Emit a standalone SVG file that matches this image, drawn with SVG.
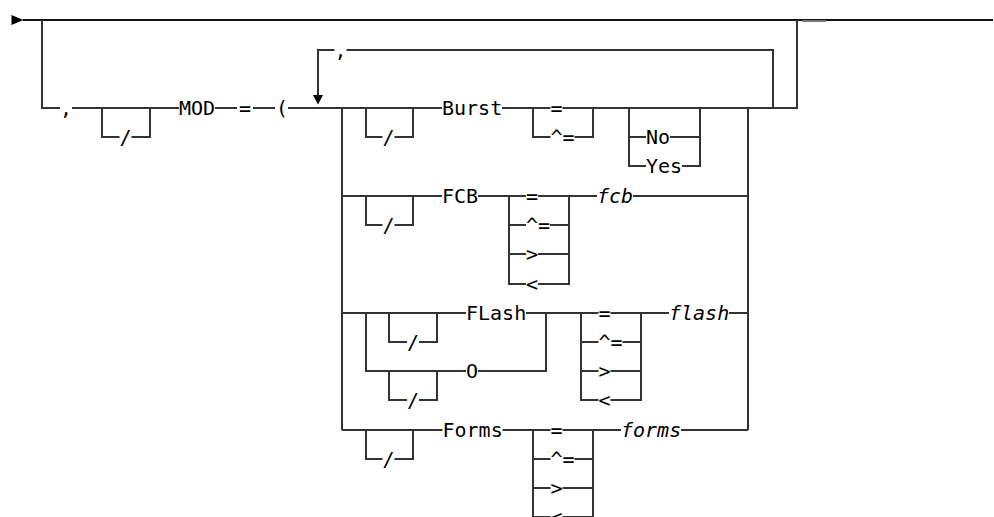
<svg xmlns="http://www.w3.org/2000/svg" width="994" height="517" viewBox="0 0 994 517">
<style>
.t{font-family:"DejaVu Sans Mono","Liberation Mono",monospace;font-size:20px;fill:#000}
.i{font-style:italic}
.c{fill:none;stroke:#333;stroke-width:2}
.m{fill:none;stroke:#111;stroke-width:2}
.a{fill:#000}
</style>
<rect width="994" height="517" fill="#fff"/>
<g id="connectors">
<path class="m" d="M23,20 H993"/>
<path d="M802,21 H826" stroke="#777" stroke-width="2"/>
<polygon class="a" points="11.5,15 23.5,20 11.5,25"/>
<path class="c" d="M42,20 V108 H60 M72,108 H179 M215,108 H237 M253,108 H275 M288,108 H442 M102,108 V137 H119.5 M131.5,137 H150 V108"/>
<path class="c" d="M773,108 V50 H346.5 M334.5,50 H318 V95"/>
<polygon class="a" points="313,95 323,95 318,104.5"/>
<path class="c" d="M748,108 H797 V20"/>
<path class="c" d="M342,108 V430 M748,108 V430"/>
<path class="c" d="M502,108 H550.5 M562.5,108 H748 M366,108 V137 H382.5 M394.5,137 H413 V108 M533,108 V137 H550.5 M574.5,137 H593 V108 M629,108 V166 H646 M629,137 H646 M670,137 H700 M682,166 H700 V108"/>
<path class="c" d="M342,196 H442 M478,196 H526 M538,196 H597 M633,196 H748 M366,196 V225 H382.5 M394.5,225 H413 V196 M509,196 V284 H526 M538,284 H569 V196 M509,225 H526 M550,225 H569 M509,254 H526 M538,254 H569"/>
<path class="c" d="M342,313 H466 M526,313 H598.5 M610.5,313 H669 M729,313 H748 M366,313 V371 H466 M478,371 H546 V313 M389,313 V342 H407 M419,342 H437 V313 M389,371 V400 H407 M419,400 H437 V371 M581,313 V400 H598.5 M610.5,400 H641 V313 M581,342 H598.5 M622.5,342 H641 M581,371 H598.5 M610.5,371 H641"/>
<path class="c" d="M342,430 H442.5 M502.5,430 H550.5 M562.5,430 H621 M681,430 H748 M366,430 V459 H382.5 M394.5,459 H413 V430 M533,430 V520 M593,430 V520 M533,459 H550.5 M574.5,459 H593 M533,488 H550.5 M562.5,488 H593 M533,517 H550.5 M562.5,517 H593"/>
</g>
<g id="node-comma1"><text class="t" x="60" y="115">,</text></g>
<g id="node-slash0"><text class="t" x="119.5" y="144">/</text></g>
<g id="node-MOD"><text class="t" x="179" y="115">MOD</text></g>
<g id="node-eq0"><text class="t" x="239" y="115">=</text></g>
<g id="node-paren"><text class="t" x="276" y="115">(</text></g>
<g id="node-comma2"><text class="t" x="334.5" y="57">,</text></g>
<g id="node-burst">
<text class="t" x="382.5" y="144">/</text>
<text class="t" x="442" y="115">Burst</text>
<text class="t" x="550.5" y="115">=</text>
<text class="t" x="550.5" y="144">^=</text>
<text class="t" x="646" y="144">No</text>
<text class="t" x="646" y="173">Yes</text>
</g>
<g id="node-fcb">
<text class="t" x="382.5" y="232">/</text>
<text class="t" x="442" y="203">FCB</text>
<text class="t" x="526" y="203">=</text>
<text class="t" x="526" y="232">^=</text>
<text class="t" x="526" y="261">&gt;</text>
<text class="t" x="526" y="291">&lt;</text>
<text class="t i" x="597" y="203">fcb</text>
</g>
<g id="node-flash">
<text class="t" x="407" y="349">/</text>
<text class="t" x="466" y="320">FLash</text>
<text class="t" x="407" y="407">/</text>
<text class="t" x="466" y="378">O</text>
<text class="t" x="598.5" y="320">=</text>
<text class="t" x="598.5" y="349">^=</text>
<text class="t" x="598.5" y="378">&gt;</text>
<text class="t" x="598.5" y="407">&lt;</text>
<text class="t i" x="669" y="320">flash</text>
</g>
<g id="node-forms">
<text class="t" x="382.5" y="466">/</text>
<text class="t" x="442.5" y="437">Forms</text>
<text class="t" x="550.5" y="437">=</text>
<text class="t" x="550.5" y="466">^=</text>
<text class="t" x="550.5" y="495">&gt;</text>
<text class="t" x="550.5" y="524">&lt;</text>
<text class="t i" x="621" y="437">forms</text>
</g>
</svg>
